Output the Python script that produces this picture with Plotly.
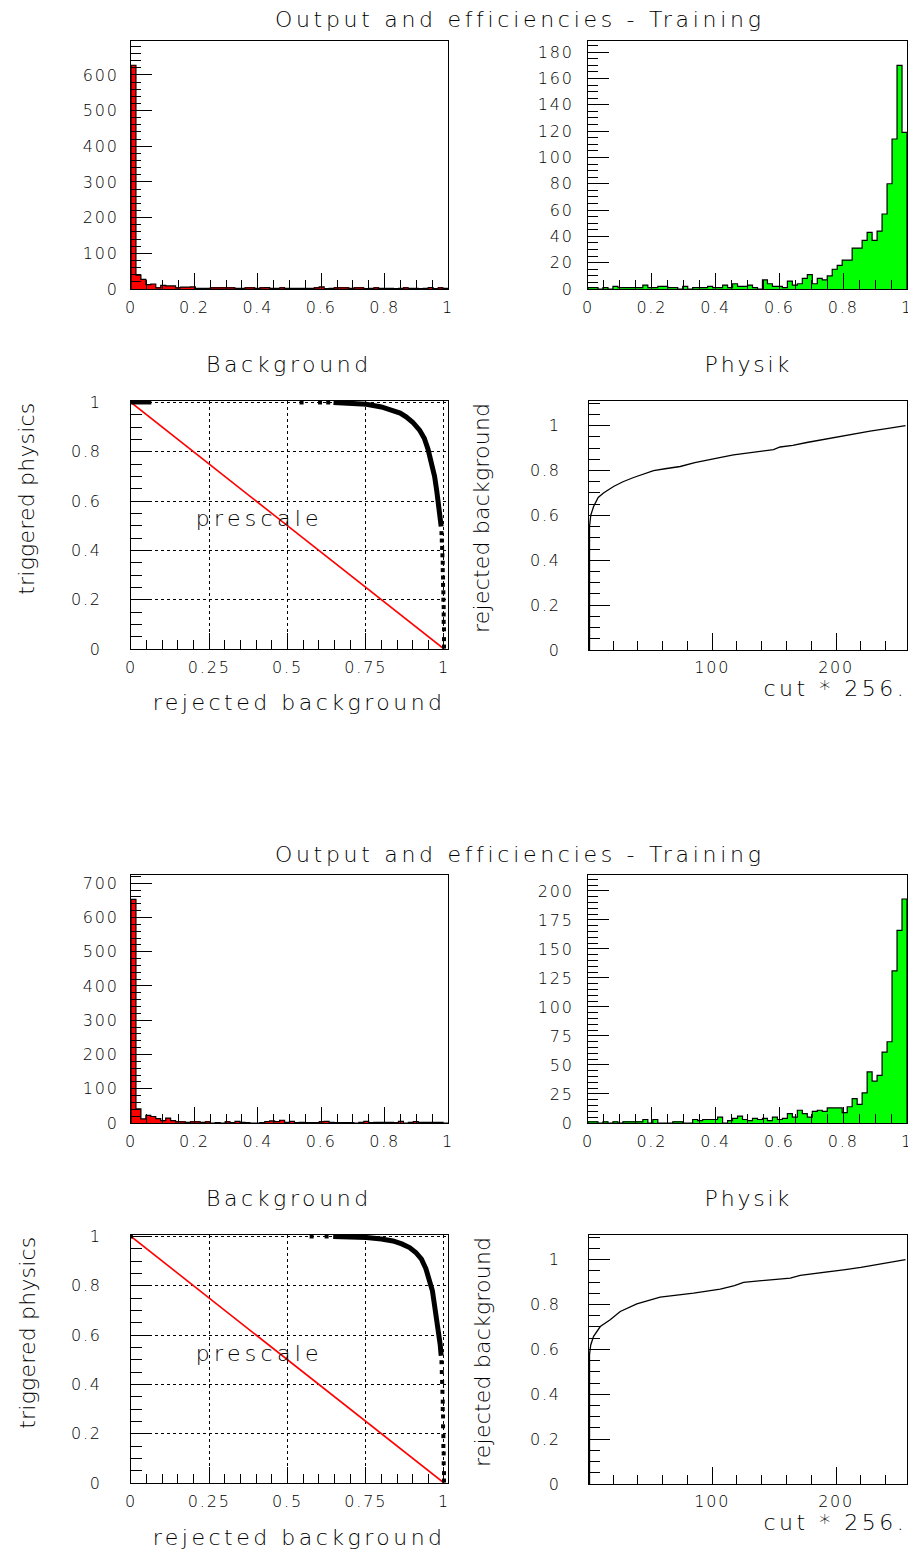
import json
import plotly.graph_objects as go

# ---------------- data ----------------
n_bins = 64
bkg_train1 = [627, 39, 27, 12, 14, 3, 10, 9, 9, 3, 5, 5, 6, 2, 2, 2,
              3, 3, 3, 3, 3, 2, 2, 3, 3, 2, 3, 4, 2, 2, 3, 2,
              2, 2, 2, 2, 2, 3, 6, 1, 2, 3, 3, 3, 2, 3, 3, 1,
              2, 3, 2, 2, 2, 1, 2, 3, 2, 2, 1, 2, 4, 1, 3, 2]
sig_train1 = [1, 1, 0, 1, 0, 2, 1, 1, 1, 1, 1, 3, 1, 1, 2, 2,
              1, 1, 0, 2, 0, 1, 1, 1, 2, 1, 1, 3, 1, 4, 2, 2,
              3, 1, 0, 7, 4, 2, 2, 1, 6, 3, 4, 8, 11, 4, 8, 7,
              10, 15, 18, 22, 22, 31, 31, 37, 43, 37, 44, 57, 80, 114, 170, 119]
bkg_train2 = [653, 41, 12, 22, 19, 13, 7, 14, 7, 3, 3, 2, 3, 3, 2, 3,
              0, 1, 0, 3, 1, 5, 2, 1, 0, 0, 1, 4, 6, 4, 8, 2,
              5, 1, 2, 1, 1, 1, 3, 5, 2, 1, 1, 1, 1, 0, 2, 5,
              1, 2, 2, 2, 2, 1, 5, 0, 2, 4, 2, 2, 2, 2, 2, 0]
sig_train2 = [1, 1, 0, 1, 0, 1, 0, 1, 1, 1, 1, 3, 0, 3, 0, 0,
              0, 1, 1, 0, 0, 3, 2, 3, 3, 3, 5, 0, 2, 4, 6, 3,
              2, 4, 3, 4, 2, 5, 3, 4, 8, 5, 11, 8, 5, 10, 11, 10,
              13, 13, 13, 9, 14, 21, 16, 26, 44, 36, 41, 61, 70, 131, 166, 193]

# ROC (rejected background, triggered physics)
roc1_x = [0.647, 0.70, 0.752, 0.80, 0.837, 0.86, 0.879, 0.90, 0.922, 0.937,
          0.949, 0.96, 0.970, 0.977, 0.983, 0.988, 0.991]
roc1_y = [1.0, 0.998, 0.993, 0.982, 0.968, 0.957, 0.942, 0.92, 0.888, 0.855,
          0.81, 0.76, 0.70, 0.64, 0.578, 0.53, 0.497]
roc1_start_x = [0.0, 0.065]
roc1_start_y = [1.0, 1.0]
roc1_sparse_x = [0.545, 0.604, 0.63, 0.992, 0.993, 0.994, 0.995,
                 0.996, 0.996, 0.997, 0.997, 0.998, 0.998, 0.999, 0.999, 0.999, 1.0, 1.0, 1.0]
roc1_sparse_y = [1.0, 1.0, 1.0, 0.47, 0.44, 0.41, 0.38,
                 0.35, 0.32, 0.29, 0.26, 0.23, 0.20, 0.17, 0.14, 0.11, 0.08, 0.04, 0.01]
roc2_x = [0.646, 0.70, 0.752, 0.80, 0.837, 0.865, 0.89, 0.91, 0.928, 0.942,
          0.954, 0.963, 0.970, 0.978, 0.984, 0.988, 0.991]
roc2_y = [1.0, 0.999, 0.996, 0.99, 0.982, 0.97, 0.955, 0.935, 0.908, 0.87,
          0.827, 0.78, 0.719, 0.66, 0.611, 0.56, 0.516]
roc2_start_x = [0.0, 0.006]
roc2_start_y = [1.0, 1.0]
roc2_sparse_x = [0.577, 0.625, 0.992, 0.993, 0.994, 0.995, 0.996, 0.996, 0.997,
                 0.997, 0.998, 0.998, 0.999, 0.999, 1.0, 1.0]
roc2_sparse_y = [1.0, 1.0, 0.49, 0.45, 0.41, 0.37, 0.33, 0.30, 0.27,
                 0.23, 0.19, 0.15, 0.12, 0.08, 0.04, 0.01]
prescale_x = [0.0, 1.0]
prescale_y = [1.0, 0.0]

# rejected background vs cut*256
phys1_x = [1, 1, 2, 4.3, 8, 12.3, 20.4, 28, 36.6, 45, 52.7, 62, 74.2, 86, 98.4, 108,
           117.2, 135, 149.5, 154.8, 165, 176.3, 188, 200.5, 214, 227.4, 242, 256]
phys1_y = [0, 0.55, 0.60, 0.64, 0.68, 0.70, 0.729, 0.75, 0.769, 0.785, 0.80, 0.808,
           0.818, 0.835, 0.851, 0.86, 0.870, 0.882, 0.893, 0.905, 0.912, 0.925, 0.937,
           0.949, 0.962, 0.976, 0.988, 1.0]
phys2_x = [1, 1, 2, 4.3, 9.7, 17.7, 25.8, 39.2, 58, 85, 106.5, 118, 125.3, 145, 163,
           171, 190, 206, 220, 233, 245, 256]
phys2_y = [0, 0.576, 0.62, 0.658, 0.702, 0.732, 0.769, 0.803, 0.833, 0.851, 0.869,
           0.884, 0.899, 0.908, 0.918, 0.930, 0.942, 0.955, 0.966, 0.978, 0.988, 1.0]

main_title = "Output and efficiencies - Training"
# ---------------- figure ----------------
W, H = 908, 1552
FONT = "DejaVu Sans"
FW = 200
fig = go.Figure()


def fx(p):
    return p / W


def fy(p):
    return 1 - p / H


def hist_traces(vals, color, ax):
    w = 1.0 / n_bins
    centers = [(i + 0.5) * w for i in range(n_bins)]
    fig.add_trace(go.Bar(x=centers, y=vals, width=w, marker=dict(color=color, line=dict(width=0)),
                         xaxis="x" + ax, yaxis="y" + ax, showlegend=False))
    sx = [0.0] + [i * w for i in range(n_bins)] + [1.0, 1.0]
    sy = [0] + list(vals) + [vals[-1], 0]
    fig.add_trace(go.Scatter(x=sx, y=sy, mode="lines", line=dict(color="black", width=1.2, shape="hv"),
                             xaxis="x" + ax, yaxis="y" + ax, showlegend=False))


def axis_common(fs=16):
    return dict(showline=True, linecolor="black", linewidth=1, mirror=True, ticks="inside",
                tickcolor="black", zeroline=False, showgrid=False, layer="above traces",
                automargin=False, ticklabeloverflow="allow",
                tickfont=dict(family=FONT, size=fs, color="black", weight=FW))


layout = dict(width=W, height=H, margin=dict(l=0, r=0, t=0, b=0, pad=0, autoexpand=False),
              paper_bgcolor="white", plot_bgcolor="white", showlegend=False, bargap=0)
annotations = []
spacings = []

for blk, off in enumerate([0, 834]):
    b = blk * 4
    ids = [str(b + k) if b + k > 1 else "" for k in (1, 2, 3, 4)]
    bkg = bkg_train1 if blk == 0 else bkg_train2
    sig = sig_train1 if blk == 0 else sig_train2
    hist_traces(bkg, "#ff0000", ids[0])
    hist_traces(sig, "#00ff00", ids[1])
    rx, ry = (roc1_x, roc1_y) if blk == 0 else (roc2_x, roc2_y)
    sx_, sy_ = (roc1_sparse_x, roc1_sparse_y) if blk == 0 else (roc2_sparse_x, roc2_sparse_y)
    stx, sty = (roc1_start_x, roc1_start_y) if blk == 0 else (roc2_start_x, roc2_start_y)
    fig.add_trace(go.Scatter(x=prescale_x, y=prescale_y, mode="lines", line=dict(color="#ff0000", width=1.6),
                             xaxis="x" + ids[2], yaxis="y" + ids[2]))
    fig.add_trace(go.Scatter(x=rx, y=ry, mode="lines", line=dict(color="black", width=5),
                             xaxis="x" + ids[2], yaxis="y" + ids[2]))
    fig.add_trace(go.Scatter(x=stx, y=sty, mode="lines", line=dict(color="black", width=4),
                             xaxis="x" + ids[2], yaxis="y" + ids[2]))
    fig.add_trace(go.Scatter(x=sx_, y=sy_, mode="markers", marker=dict(symbol="square", size=4, color="black"),
                             xaxis="x" + ids[2], yaxis="y" + ids[2]))
    px_, py_ = (phys1_x, phys1_y) if blk == 0 else (phys2_x, phys2_y)
    fig.add_trace(go.Scatter(x=px_, y=py_, mode="lines", line=dict(color="black", width=1.3),
                             xaxis="x" + ids[3], yaxis="y" + ids[3]))

    ymax_b = 695 if blk == 0 else 724
    ymax_s = 188.5 if blk == 0 else 213.7
    dt_s = 20 if blk == 0 else 25

    def xa(key, dom, fs=16, **kw):
        d = axis_common(fs)
        d.update(domain=[fx(dom[0]), fx(dom[1])])
        d.update(kw)
        layout["xaxis" + key] = d

    def ya(key, dom, anchor, fs=16, **kw):
        d = axis_common(fs)
        d.update(domain=[fy(dom[1]), fy(dom[0])], anchor="x" + anchor)
        d.update(kw)
        layout["yaxis" + key] = d

    hx = dict(range=[0, 1], tickmode="array", tickvals=[0, 0.2, 0.4, 0.6, 0.8, 1],
              ticktext=["0", "0.2", "0.4", "0.6", "0.8", "1"], ticklen=16,
              minor=dict(tickmode="linear", tick0=0, dtick=0.05, ticks="inside", ticklen=9, tickcolor="black"),
              ticklabelstandoff=4)
    xa(ids[0], (131, 448), anchor="y" + ids[0], **hx)
    ya(ids[0], (41 + off, 289 + off), ids[0], range=[0, ymax_b], tickmode="linear", tick0=0, dtick=100,
       ticklen=21, minor=dict(tickmode="linear", tick0=0, dtick=20, ticks="inside", ticklen=10, tickcolor="black"),
       ticklabelstandoff=8)
    xa(ids[1], (588, 907), anchor="y" + ids[1], **hx)
    ya(ids[1], (41 + off, 289 + off), ids[1], range=[0, ymax_s], tickmode="linear", tick0=0, dtick=dt_s,
       ticklen=21, minor=dict(tickmode="linear", tick0=0, dtick=5, ticks="inside", ticklen=10, tickcolor="black"),
       ticklabelstandoff=10)
    xa(ids[2], (131, 448), anchor="y" + ids[2], range=[0, 1.0128], tickmode="array",
       tickvals=[0, 0.25, 0.5, 0.75, 1], ticktext=["0", "0.25", "0.5", "0.75", "1"], ticklen=16,
       showgrid=True, gridcolor="black", griddash="dot", gridwidth=1,
       minor=dict(tickmode="linear", tick0=0, dtick=0.05, ticks="inside", ticklen=9, tickcolor="black"),
       ticklabelstandoff=4)
    ya(ids[2], (401 + off, 649 + off), ids[2], range=[0, 1.006], tickmode="array",
       tickvals=[0, 0.2, 0.4, 0.6, 0.8, 1], ticktext=["0", "0.2", "0.4", "0.6", "0.8", "1"], ticklen=21,
       showgrid=True, gridcolor="black", griddash="dot", gridwidth=1,
       minor=dict(tickmode="linear", tick0=0, dtick=0.05, ticks="inside", ticklen=11, tickcolor="black"),
       ticklabelstandoff=25)
    xa(ids[3], (589, 907), anchor="y" + ids[3], range=[0.6, 257.2], tickmode="array",
       tickvals=[100, 200], ticktext=["100", "200"], ticklen=17,
       minor=dict(tickmode="linear", tick0=0, dtick=20, ticks="inside", ticklen=9, tickcolor="black"),
       ticklabelstandoff=3)
    ya(ids[3], (401 + off, 650 + off), ids[3], range=[0, 1.11], tickmode="array",
       tickvals=[0, 0.2, 0.4, 0.6, 0.8, 1], ticktext=["0", "0.2", "0.4", "0.6", "0.8", "1"], ticklen=21,
       minor=dict(tickmode="linear", tick0=0, dtick=0.05, ticks="inside", ticklen=11, tickcolor="black"),
       ticklabelstandoff=24)

    tf = dict(family=FONT, size=22, color="black", weight=FW)
    base = dict(xref="paper", yref="paper", showarrow=False, font=tf, xanchor="center", yanchor="middle")
    items = [
        (main_title, 519, 20, 0, 3.7),
        ("Background", 289, 364, 0, 3.6),
        ("Physik", 748, 364, 0, 2.8),
        ("triggered physics", 27, 499, -90, 0.2),
        ("rejected background", 299, 703, 0, 3.5),
        ("prescale", 259, 519, 0, 4.3),
        ("rejected background", 482, 518, -90, 0.2),
        ("cut * 256.", 835, 688, 0, 3.5),
    ]
    for txt, x, y, ang, sp in items:
        a = dict(base)
        a.update(text=txt, x=fx(x), y=fy(y + off), textangle=ang)
        annotations.append(a)
        spacings.append(sp)

layout["annotations"] = annotations
fig.update_layout(**layout)

post = """
document.body.style.margin = '0px';
var SP = %s;
function spacing() {
  var gd = document.getElementById('{plot_id}');
  var anns = gd.querySelectorAll('g.annotation');
  anns.forEach(function(g, i){
    var idx = g.getAttribute('data-index');
    idx = (idx === null) ? i : parseInt(idx);
    var t = g.querySelector('text');
    if (t) { t.style.letterSpacing = SP[idx] + 'px'; }
  });
  gd.querySelectorAll('g[class*="tick"] text').forEach(function(t){ t.style.letterSpacing = '1.8px'; });
}
spacing(); setTimeout(spacing, 50); setTimeout(spacing, 300);
""" % json.dumps(spacings)
fig.write_html("out.html", post_script=post, config={"displayModeBar": False})
